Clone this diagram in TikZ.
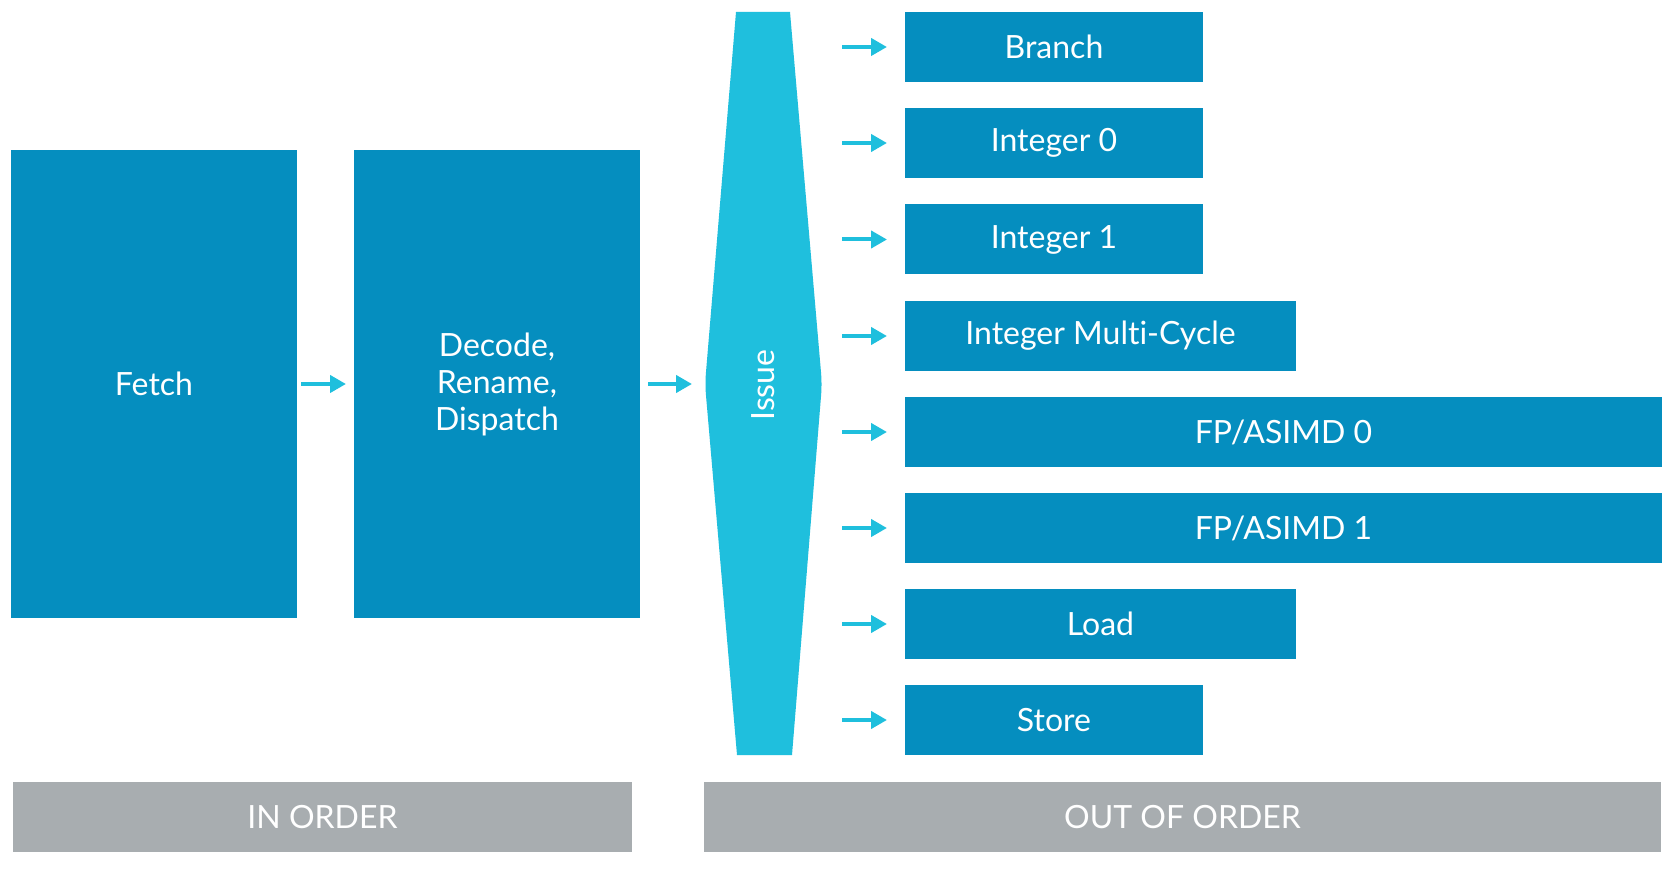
\documentclass[tikz,border=0pt]{standalone}
\usepackage{fontspec}
\setmainfont{Lato}[Ligatures=NoCommon]
\usetikzlibrary{arrows.meta}
\definecolor{boxblue}{HTML}{058EBF}
\definecolor{issuecyan}{HTML}{1FBFDD}
\definecolor{bargray}{HTML}{A8ADB0}
\tikzset{
  unit/.style={fill=boxblue, draw=none, text=white, inner sep=0pt, outer sep=0pt,
    anchor=north west, align=center, font=\fontsize{16}{18.5}\selectfont},
  shortbox/.style={unit, minimum width=149pt, minimum height=35pt},
  midbox/.style={unit, minimum width=195.5pt, minimum height=35pt},
  longbox/.style={unit, minimum width=378.5pt, minimum height=35pt},
  bigbox/.style={unit, minimum width=143pt, minimum height=234pt},
  barbox/.style={unit, fill=bargray},
  arr/.style={draw=issuecyan, line width=2pt,
    -{Triangle[length=8pt,width=8.5pt]}}
}
\begin{document}
\begin{tikzpicture}[x=0.5pt,y=-0.5pt]
\useasboundingbox[fill=white] (0,0) rectangle (1674,870);
% in-order stages
\node[bigbox] (fetch) at (11,150) {Fetch};
\node[bigbox] (decode) at (354,150) {Decode,\\Rename,\\Dispatch};
% issue
\fill[issuecyan] (736,12) -- (790,12) [rounded corners=5pt]-- (822,384) [sharp corners]-- (792,755) -- (737,755) [rounded corners=5pt]-- (705,384) [sharp corners]-- cycle;
\coordinate (issueW) at (705,384);
\coordinate (issueE) at (822,384);
\node[text=white, rotate=90, font=\fontsize{16}{18.5}\selectfont, inner sep=0pt] (issue) at (763,385) {Issue};
% execution units
\node[shortbox] (branch) at (905,12) {Branch};
\node[shortbox] (int0) at (905,108) {Integer 0};
\node[shortbox] (int1) at (905,204.5) {Integer 1};
\node[midbox] (imc) at (905,301) {Integer Mult\kern0pt i-Cycle};
\node[longbox] (fp0) at (905,397) {FP/ASIMD 0};
\node[longbox] (fp1) at (905,493) {FP/ASIMD 1};
\node[midbox] (load) at (905,589) {Load};
\node[shortbox] (store) at (905,685) {Store};
% bars
\node[barbox, minimum width=309.5pt, minimum height=35pt] (inorder) at (13,782) {IN ORDER};
\node[barbox, minimum width=478.5pt, minimum height=35pt] (outorder) at (704,782) {OUT OF ORDER};
% connectors
\draw[arr, shorten <=2pt, shorten >=4pt] (fetch.east) -- (decode.west);
\draw[arr, shorten <=4pt, shorten >=6.5pt] (decode.east) -- (issueW);
\foreach \n in {branch,int0,int1,imc,fp0,fp1,load,store}{
  \draw[arr, shorten <=10pt, shorten >=9pt] (issueE |- \n.west) -- (\n.west);
}
\end{tikzpicture}
\end{document}
